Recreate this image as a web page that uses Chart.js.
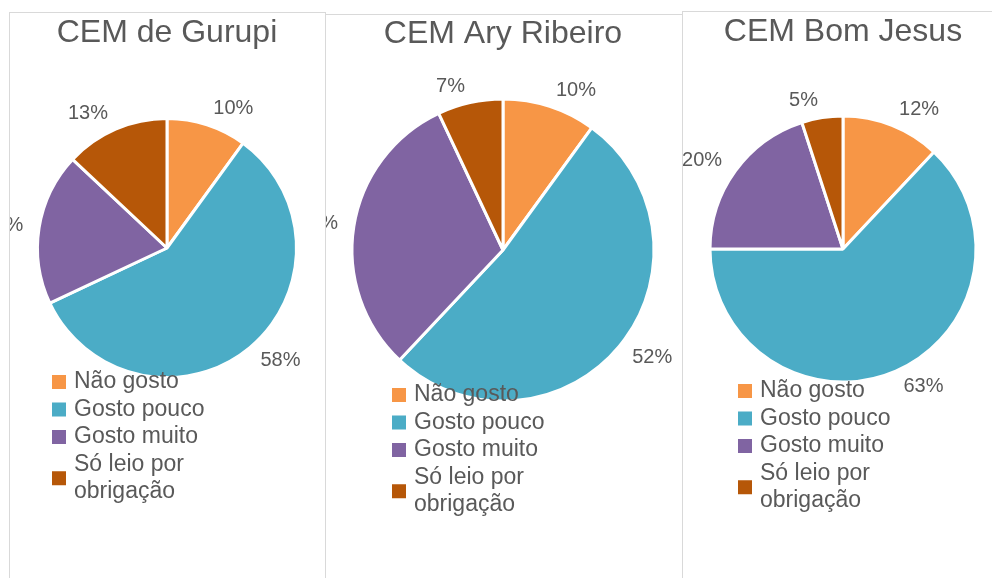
<!DOCTYPE html>
<html>
<head>
<meta charset="utf-8">
<script src="https://cdn.jsdelivr.net/npm/chart.js@4.4.0/dist/chart.umd.min.js"></script>
<style>
  html, body { margin: 0; padding: 0; background: #fff; width: 992px; height: 578px; overflow: hidden; }
  .panel { position: absolute; border: 1px solid #d9d9d9; background: #fff; overflow: hidden; }
  .panel canvas { display: block; }
</style>
</head>
<body>
<div class="panel" style="left:9px;top:12px;width:315px;height:600px"><canvas id="chartGurupi" width="315" height="600"></canvas></div>
<div class="panel" style="left:325px;top:14px;width:356px;height:600px"><canvas id="chartAry" width="356" height="600"></canvas></div>
<div class="panel" style="left:682px;top:11px;width:330px;height:600px"><canvas id="chartBomJesus" width="330" height="600"></canvas></div>
<script>
// --- data ---
const categories = ['Não gosto', 'Gosto pouco', 'Gosto muito', 'Só leio por obrigação'];
const schoolNames = ['CEM de Gurupi', 'CEM Ary Ribeiro', 'CEM Bom Jesus'];
const gurupiValues = [10, 58, 19, 13];
const aryRibeiroValues = [10, 52, 31, 7];
const bomJesusValues = [12, 63, 20, 5];

const sliceColors = ['#F79646', '#4BACC6', '#8064A2', '#B65708'];
const textColor = '#595959';
const fontFamily = '"Liberation Sans", Arial, sans-serif';
const borderW = 3;

// percent labels, title and legend drawn on top of the pie
const panelDecor = {
    id: 'panelDecor',
    afterDatasetsDraw(chart, args, opts) {
        const ctx = chart.ctx;
        const ds = chart.data.datasets[0];
        const meta = chart.getDatasetMeta(0);
        ctx.save();
        ctx.fillStyle = textColor;

        // data labels, outside end
        ctx.font = '20px ' + fontFamily;
        ctx.textAlign = 'center';
        ctx.textBaseline = 'middle';
        let cx = 0;
        meta.data.forEach((arc, i) => {
            const p = arc.getProps(['x', 'y', 'startAngle', 'endAngle', 'outerRadius'], true);
            cx = p.x;
            const mid = (p.startAngle + p.endAngle) / 2;
            const dx = Math.cos(mid), dy = Math.sin(mid);
            const text = ds.data[i] + '%';
            const w = ctx.measureText(text).width;
            const x = p.x + (p.outerRadius + 14) * dx + (w / 2 + 2) * Math.sign(dx);
            const y = p.y + (p.outerRadius + 14) * dy + 10 * dy * 0.3;
            ctx.fillText(text, x, y);
        });

        // title
        ctx.font = '32px ' + fontFamily;
        ctx.textBaseline = 'alphabetic';
        ctx.fillText(opts.title, cx, opts.titleY);

        // legend
        ctx.font = '23px ' + fontFamily;
        ctx.textAlign = 'left';
        ctx.textBaseline = 'middle';
        const rowH = 27.5;
        let y = opts.legendY;
        chart.data.labels.forEach((label, i) => {
            const lines = wrapText(ctx, label, 145);
            const blockMid = y + (lines.length - 1) * rowH / 2;
            ctx.fillStyle = ds.backgroundColor[i];
            ctx.fillRect(opts.legendX, blockMid - 7, 14, 14);
            ctx.fillStyle = textColor;
            lines.forEach((ln, k) => ctx.fillText(ln, opts.legendX + 22, y + k * rowH));
            y += lines.length * rowH;
        });
        ctx.restore();
    }
};

function wrapText(ctx, text, maxW) {
    const words = text.split(' ');
    const lines = [];
    let cur = '';
    words.forEach(wd => {
        const test = cur ? cur + ' ' + wd : wd;
        if (cur && ctx.measureText(test).width > maxW) {
            lines.push(cur);
            cur = wd;
        } else {
            cur = test;
        }
    });
    if (cur) lines.push(cur);
    return lines;
}

function makePie(canvasId, title, values, geo) {
    const canvas = document.getElementById(canvasId);
    const W = canvas.width, H = canvas.height;
    const side = 2 * geo.r + borderW;
    new Chart(canvas.getContext('2d'), {
        type: 'pie',
        data: {
            labels: categories,
            datasets: [{
                data: values,
                backgroundColor: sliceColors,
                borderColor: '#ffffff',
                borderWidth: borderW
            }]
        },
        options: {
            responsive: false,
            animation: false,
            layout: {
                padding: {
                    left: geo.cx - side / 2,
                    right: W - geo.cx - side / 2,
                    top: geo.cy - side / 2,
                    bottom: H - geo.cy - side / 2
                }
            },
            plugins: {
                legend: { display: false },
                tooltip: { enabled: false },
                panelDecor: { title: title, titleY: geo.titleY, legendX: geo.legendX, legendY: geo.legendY }
            }
        },
        plugins: [panelDecor]
    });
}

makePie('chartGurupi', schoolNames[0], gurupiValues,
    { cx: 157, cy: 235, r: 129.5, titleY: 29, legendX: 42, legendY: 369 });
makePie('chartAry', schoolNames[1], aryRibeiroValues,
    { cx: 177, cy: 235, r: 151, titleY: 28, legendX: 66, legendY: 380 });
makePie('chartBomJesus', schoolNames[2], bomJesusValues,
    { cx: 160, cy: 237, r: 133, titleY: 29, legendX: 55, legendY: 379 });
</script>
</body>
</html>
